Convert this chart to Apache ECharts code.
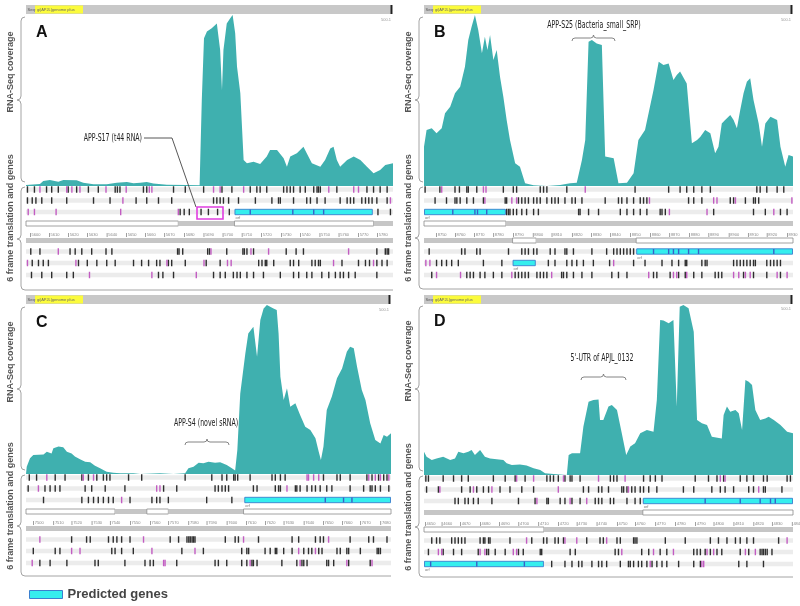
<!DOCTYPE html>
<html><head><meta charset="utf-8">
<script src="https://cdn.jsdelivr.net/npm/echarts@6/dist/echarts.min.js"></script>
<style>html,body{margin:0;padding:0;background:#fff}#c{width:800px;height:606px}</style>
</head><body><div id="c"></div><script>
// ---------- Coverage profiles (x: % of window, y: % of max coverage) ----------
const covA = [[0,0.6],[3.8,1.2],[4.7,2.9],[6.5,3.5],[8.8,2.5],[10.2,3.5],[13.8,3.3],[15.6,1.9],[18.4,1],[22,1],[24.7,1.9],[27.5,2.3],[29.3,1.6],[31.1,1.9],[32.9,2.3],[34.7,1.4],[38.4,0.8],[43.8,0.6],[47.3,0.4],[47.9,50.3],[48.5,86.4],[49.3,90.3],[50.6,92.2],[52,95.1],[52.9,79.5],[53.4,56.1],[53.8,79.5],[54.7,95.1],[55.6,98],[56.3,100],[57,89.3],[57.5,69.8],[58.4,54.2],[59.3,15.2],[60.2,13.3],[62,14.2],[63.8,12.9],[65.6,17.2],[66.5,21.1],[68.4,21.1],[70.2,16.2],[71.1,11.3],[72,17.2],[73.8,19.1],[75.6,23],[76.5,19.1],[77.9,13.3],[80.2,11.3],[81.5,15.2],[82.9,22],[83.8,23],[84.7,15.2],[85.6,11.3],[87.5,15.2],[89.3,17.2],[91.1,15.2],[92.9,11.3],[94.7,7.4],[96.5,9.4],[97.9,12.3],[100,13.3]];
const covB = [[0,23],[0.7,32.7],[2.1,33.7],[3.4,30.8],[4.8,33.7],[5.7,42.5],[7.1,46.4],[8.4,54.2],[9.8,58.1],[11.1,69.8],[12,85.4],[12.9,93.2],[13.8,100],[14.7,91.2],[15.7,77.6],[16.5,87.3],[17.2,79.5],[17.9,88.3],[18.8,73.7],[19.7,79.5],[20.6,63.9],[21.5,52.2],[22.4,38.6],[23.3,26.9],[24.7,13.3],[26,11.3],[27.4,1.6],[29.7,0.4],[33.3,0],[36.9,0.6],[39.6,1.6],[41.4,1.9],[42.8,15.2],[43.7,26.9],[44.6,84.4],[45.5,85.4],[46.8,83.4],[48.2,82.5],[49.1,17.2],[51.4,16.2],[52.7,1.6],[55,1.9],[56.8,7.4],[58.1,26.9],[59.9,32.7],[62.2,56.1],[63.6,72.7],[64.9,70.8],[66.3,71.7],[67.6,62],[68.5,64.9],[69.4,66.9],[71.2,60],[72.6,25],[74,26.9],[74.9,28.8],[76.2,32.7],[77.6,30.8],[78.9,19.1],[79.8,23],[80.7,36.6],[81.6,38.6],[83,41.5],[83.9,38.6],[84.8,33.7],[85.7,44.4],[86.6,54.2],[87.5,61],[88.4,63],[89.3,50.3],[90.7,36.6],[91.6,23],[92.5,36.6],[93.9,40.5],[95.7,38.6],[96.6,23],[97.9,11.3],[98.8,18.1],[100,17.2]];
const covC = [[0,0],[0.2,4.3],[1.1,9.3],[2,11.2],[4.8,11.6],[5.7,13.2],[7,12.2],[7.5,15.2],[8.9,16.2],[10.2,15.8],[11.2,13.2],[12.5,12.2],[13.4,10.3],[14.8,8.7],[16.2,7.3],[17.6,6.9],[18.9,4.9],[20.3,3.4],[22.1,1.4],[23.9,0.8],[25.8,0.4],[29.4,0.4],[31.3,0],[36.7,0.4],[40.4,0],[43.6,0.4],[44.5,3.4],[45.9,4.3],[47.3,6.7],[48.6,6.3],[50,7.3],[51.8,6.7],[53.2,6.9],[55,5.3],[56.4,3.4],[57.3,2],[57.9,14.2],[58.7,47.7],[60.1,71.4],[60.9,83.2],[62.3,87.2],[63.3,69.4],[64.2,91.1],[65.1,98],[66,100],[66.9,99],[67.8,98],[68.7,97],[69.2,83.2],[69.7,57.6],[70.6,43.8],[71.5,50.7],[72.4,39.8],[73.8,41.8],[75.1,34.9],[76.5,28],[77.9,26],[79.3,21.1],[80.2,13.2],[80.8,8.3],[81.5,16.2],[82.4,37.9],[83.8,45.8],[85.2,56.6],[86.6,62.5],[87.9,72.4],[88.8,75.3],[89.8,74.4],[90.7,63.5],[92,49.7],[93,43.8],[94.3,30],[95.7,20.1],[97.1,18.1],[98,23.1],[98.9,22.1],[100,24.1]];
const covD = [[0,13.6],[0.7,10.7],[2.1,8.8],[3.4,9.7],[5.2,10.7],[7.1,8.8],[8.4,9.7],[9.3,13.6],[10.7,12.7],[12,13.6],[12.9,14.6],[13.8,11.7],[15.2,14.6],[16.5,10.7],[17.9,9.7],[19.7,9.2],[21.5,8.8],[22.4,6.8],[23.8,5.8],[26,6.2],[27.8,5.5],[29.7,3.9],[31.5,2.9],[32.8,1],[35.1,0.6],[38.7,0],[39.2,11.7],[40.1,12.7],[42.3,12.7],[43.2,28.3],[44.6,42.9],[45.9,43.9],[47.3,44.2],[47.7,32.2],[48.6,32.2],[50,40],[50.9,40.9],[52.3,38],[53.6,24.4],[54.8,11.7],[55.9,16.6],[57.2,18.5],[58.6,24.4],[60.4,26.3],[62.2,25.3],[63.1,43.9],[64,90.6],[64.9,90.3],[66.3,88.7],[67.6,90.6],[68.5,40],[69.3,98.4],[70.3,99.4],[71.7,97.5],[73.1,83.8],[74,32.2],[75.3,30.2],[76.7,29.2],[78,22.4],[80.7,21.4],[81.2,35.1],[82.1,40],[83,37],[84.4,38],[85.3,36.1],[86.2,26.3],[87.1,55.6],[88,54.6],[88.9,52.6],[89.8,38],[91.1,32.2],[92.5,33.1],[93.4,34.1],[94.8,32.2],[96.6,29.2],[98.4,25.3],[100,24.4]];

// ---------- Stop codon ticks per frame: [f1,f2,f3,r1,r2,r3] ----------
const A_black = [
 [0.4,2.3,5.6,7,8.8,11.5,13.8,17,19.7,24.3,24.9,25.6,32,32.9,40.2,43.4,48.4,53.4,56.1,61.1,62.9,63.8,65.6,70.2,71.1,72,72.9,74.7,76.1,78.4,79.3,79.7,80.2,84.7,92.9,94.7,96.5,98.4],
 [0.4,1.7,2.7,4.3,7,11.1,18.4,22.9,30,32.9,36.1,39.7,51.1,52,52.9,53.8,55.2,57.9,62.5,67,68.8,69.3,72.9,76.5,77.5,79.3,81.5,85.6,87.5,88.4,89.3,91.5,92.5,93.4,94.3,95.6,98.4],
 [42,43.1,44.5,47.7,49.7,52.2,55.4,95.9,99.3],
 [1.3,3.8,12,13.4,15.2,17.9,21.8,23.4,41.3,41.7,42.7,49.5,50,54.7,59.1,59.5,60.2,62,70.9,73.6,75.6,95.6,97.9,98.4,98.8],
 [1.7,3.4,4.7,6.1,14.3,16.7,19.3,22,24.3,29.3,31.5,33.4,35.6,36.5,38.8,39.7,43.4,49.1,52.9,63.4,64.3,65.2,65.6,67.5,72,72.9,74.3,77.9,78.8,79.7,80.2,86.1,90.6,92.5,93.6,95.6,97,98.4],
 [1.5,4.3,7,11.1,12.9,36.1,37.3,40.2,51.1,52.9,54.3,56.5,57.5,58.4,60.2,62,64.7,69.3,72.9,74.3,76.5,77.9,80.6,82.5,84.3,85.6,86.5,87.9,89.7,95.6]];
const A_magenta = [
 [3.8,11.1,12.5,14.7,21.8,27.3,33.6,34.3,51.1,52.9,59.3,82.5,89.3,90.6],
 [26.4,99.3],
 [0.6,2.3,8.2,25.8,41.5],
 [8.8,50.4,61.3,66.1,87.9],
 [0.4,13.6,38.4,48.5,54.9,55.9,83.8,94.7],
 [17.3,34.3,46.4]];
const B_black = [
 [0.3,4.3,8.4,9.6,11.6,12,14.3,21.5,24.2,25.1,31.5,32.4,33.3,38.7,57.2,66.3,69.4,71.2,73.1,75.3,77.6,90.2,91.1,92.9,95.7,97.5],
 [3,6.1,8.4,8.9,9.8,11.6,13.4,16.1,22,22.4,25.6,26.5,27.4,28.3,29.7,30.6,31.5,33.3,34.6,35.5,36.4,38.2,40.1,41,42.8,49.1,52.7,53.6,55,56.8,58.6,59.5,60.4,71.7,73.1,75.3,83,83.9,87.1,89.3,89.8,90.7],
 [22.4,22.9,23.3,24.2,25.1,26.5,27.8,29.7,31,41.9,42.3,44.6,47.3,53.2,55,56.8,58.6,60.4,64,64.5,65.4,78.5,89.3,92.5,96.6,98.4],
 [1.4,10.2,11.1,14.3,15.2,22.9,26.5,27.4,28.3,29.7,30.6,34.2,35.5,38.2,38.7,40.5,45.5,49.5,51.4,52.3,53.2,54.1,55,55.9,56.8],
 [3.4,4.8,6.1,7.5,9.3,16.1,21.1,33.7,35.5,38.7,40.1,41.4,43.2,45.9,50.3,56.8,59.9,64.5,67.2,69,70.8,71.2,75.3,76.2,76.7,83.9,84.8,85.7,86.6,87.5,88.4,89.3,89.8,92.9,93.9,94.8,95.7,96.6],
 [2.1,11.6,12.5,13.4,15.2,16.5,18.8,21.1,24.7,25.6,26.5,27.4,28.3,30.6,31.5,32.4,33.3,37.3,37.8,38.7,40.5,42.8,45.5,50.9,52.7,55,62.2,63.1,66.7,69,70.8,73.1,75.3,78.9,79.8,80.7,86.6,89.3,92.9,96.6]];
const B_magenta = [
 [4.8,16.1,16.8,43.7],
 [16.5,23.8,25.1,61.1,78.5,79.4,84.4,99.7],
 [66.5,76.7,94.8],
 [],
 [0.5,1.6,51.4],
 [3.4,9.9,23.8,34.6,60.9,67.6,68.5,71.2,83.9,85.3,87.1,88.4,95.7,98.4]];
const C_black = [
 [0.9,2.9,8,10.7,15.3,17.1,19.4,21.2,22.1,23,28.1,31.7,43.6,50.9,53.7,55,56.9,57.3,58,61.4,67.4,68.3,69.7,71,81.5,85.2,86.1,88.8,93.4,94.8,96.6,98,98.9],
 [0.6,5.2,6.6,8,9.3,16.2,18,21.7,27.1,37.7,41.3,51.8,52.7,53.7,54.6,55.5,62.3,63.3,68.3,69.2,69.7,73.8,74.2,75.1,77,78.3,79.3,80.6,82.4,83.8,88.8,92.5,94.3,94.8,95.7,97.1,99.4],
 [4.8,15.3,17.1,18.5,19.8,21.2,22.6,23.9,28.5,34.5,35.8,36.7,39,49.5,56.4],
 [12.5,16.6,17.6,22.6,23.9,24.9,26.2,28.5,39.5,41.8,44.1,44.6,45,45.5,45.9,46.3,54.6,57.3,58.2,63.7,72.9,74.7,79.3,80.6,81.5,88.8,93.9,95.2,98.9],
 [2,8,9.3,23.5,24.4,26.2,29.4,42.7,48.6,59.1,60.5,61,65.5,66.9,68.3,68.7,70.6,72.9,76.1,77.4,78.3,80.2,81.1,85.2,86.1,87.9,88.4,91.6,96.2,96.6,97.1],
 [3.8,6.6,11.2,18.9,19.8,27.1,32.6,34,34.9,41.3,51.8,52.7,55,59.1,60.5,61.9,62.3,63.3,70.1,74.2,75.6,76.1,77,82.4,82.9,84.3,88.4,94.3]];
const C_magenta = [
 [5.7,15.7,18.5,77,77.4,78.8,80.2,93.9,95.7,97.1,99.4],
 [3.4,35.8,36.7,71.5],
 [26.2],
 [3.8,32.2,59.6,82.9],
 [12.5,14.8,34.5,46.3,74.7,79.3],
 [1.7,37.7,38.1,61.4,75.1,87.9,94.8]];
const D_black = [
 [0.5,1.2,5.2,8,10.2,12,18.8,22,24.7,27.4,33.3,34.2,35.1,36.4,38.2,39.6,40.1,42.3,50.5,51.4,52.3,59.5,61.3,62.7,64.5,73.5,77.1,79.4,81.2,85.7,87.5,89.3,92,93,98.4,99.3],
 [0.7,3.9,10.2,12.5,14.3,16.1,17.5,20.6,23.3,26.5,29.7,43.2,44.6,47.3,48.2,50,53.6,54.1,55,56.3,57.2,58.6,59.5,60.9,63.1,70.3,73.1,78,80.3,81.6,83.9,88,89.3,92,92.5,97],
 [8.4,9.3,11.1,12,13.4,14.7,18.4,25.6,30.1,33.3,33.7,36.9,38.2,40.1,42.3,46.4,47.3,48.2,50.5,51.4,55,57.2,58.6],
 [2.1,3.4,4.3,7.5,8.4,9.3,10.2,11.1,15.2,16.1,16.5,17.5,17.9,23.3,29.2,32.4,33.3,35.5,36.4,37.8,44.1,47.7,48.6,52.3,53.2,56.8,57.2,57.7,65.4,70.8,77.6,79.8,82.1,84.4,85.7,87.5,89.3,96.1],
 [1.2,5.2,8,10.2,14.7,17,17.5,19.3,22,25.6,26.9,31.5,31.9,39.6,41,51.8,52.7,59,60.9,64,65.8,73.1,74,74.9,76.2,77.6,79.4,80.7,85.7,88,91.1,91.6,92,92.5,93,94.3],
 [34.6,38.2,40.1,41.9,42.8,45.5,47.3,48.2,49.5,53.2,55.4,55.9,56.8,58.1,59,60.4,61.8,63.1,64.5,65.8,69,73.1,74.9,85.3,87.5,92]];
const D_magenta = [
 [25.1,29.7,37.8,47.3,54.5,80.3,81.6],
 [4.3,13.4,18.4,36.4,55.4,90.7],
 [30.6,39.6,44.1],
 [27.8,38.2,41.4,49.5,98.4],
 [3.9,4.8,15.2,16.5,24.2,25.1,53.6,62.2,67.6,76.7,78.5,87.1,89.8],
 [61.3,75.3,75.8]];

// ---------- Predicted genes: [start, end, row] and internal divisions ----------
const A_genes = [[56.8,94.5,2]];
const A_geneDiv = [[61.1,72.7,78.4,81.1]];
const B_genes = [[0,22.2,2],[57.5,100,6],[24,30.3,7]];
const B_geneDiv = [[7.8,13.8,14.5,17],[62.2,66.3,67.6,69,71.7,74.4,94.8],[]];
const C_genes = [[59.8,100,2]];
const C_geneDiv = [[82,87,89.3]];
const D_genes = [[59.3,100,2],[0,32.5,8]];
const D_geneDiv = [[76.2,85.7,91.1,93.9,95.2],[1.8,14.3,27.2]];

// ---------- Strand / ruler bars: [start, end, kind(0 open,1 grey)] ----------
const A_strand = [[0,41.5,0],[41.5,56.8,1],[56.8,94.7,0],[94.7,100,1]];
const A_rulerBar = [[0,100,1]];
const B_strand = [[0,22.2,0],[22.2,100,1]];
const B_rulerBar = [[0,24,1],[24,30.4,0],[30.4,57.5,1],[57.5,100,0]];
const C_strand = [[0,24.4,0],[24.4,33.1,1],[33.1,39,0],[39,59.6,1],[59.6,100,0]];
const C_rulerBar = [[0,100,1]];
const D_strand = [[0,59.3,1],[59.3,100,0]];
const D_rulerBar = [[0,32.5,0],[32.5,100,1]];

// ---------- Ruler ticks and labels ----------
const A_ruler = [1.1,6.3,11.5,16.7,22,27.3,32.5,37.7,43.1,48.4,53.6,58.8,64.1,69.5,74.7,80,85.2,90.5,95.7];
const A_rulerText = ['5600','5610','5620','5630','5640','5650','5660','5670','5680','5690','5700','5710','5720','5730','5740','5750','5760','5770','5780'];
const B_ruler = [3.3,8.4,13.6,18.8,24.2,29.5,34.6,40.1,45.3,50.5,55.9,61.3,66.5,71.9,77.1,82.6,87.8,92.9,98.4];
const B_rulerText = ['8750','8760','8770','8780','8790','8800','8810','8820','8830','8840','8850','8860','8870','8880','8890','8900','8910','8920','8930'];
const C_ruler = [2,7.5,12.5,18,23,28.5,34,39,44.5,49.5,55,60.3,65.5,70.6,76.1,81.4,86.6,91.6,97.1];
const C_rulerText = ['7500','7510','7520','7530','7540','7550','7560','7570','7580','7590','7600','7610','7620','7630','7640','7650','7660','7670','7680'];
const D_ruler = [0.3,4.8,9.8,15.2,20.4,25.6,31,36.4,41.4,46.8,52.3,57.2,62.7,68.1,73.5,78.5,83.9,89.3,94.3,99.7];
const D_rulerText = ['4650','4660','4670','4680','4690','4700','4710','4720','4730','4740','4750','4760','4770','4780','4790','4800','4810','4820','4830','4840'];

// ---------- Text ----------
const panelLetters = ['A','B','C','D'];
const annotations = ['APP-S17 (t44 RNA)','APP-S25 (Bacteria_small_SRP)','APP-S4 (novel sRNA)',"5'-UTR of APJL_0132"];
const sideLabels = ['RNA-Seq coverage','6 frame translation and genes'];
const legendName = 'Predicted genes';

// ---------- Layout ----------
const LAY = [
 {left:26, right:393, barY:5, covTop:15, base:186, end:290},
 {left:424, right:793, barY:5, covTop:15, base:186, end:289},
 {left:26, right:391, barY:295, covTop:305, base:474, end:576},
 {left:424, right:793, barY:295, covTop:304, base:475, end:577}
];
const ROW_OFF = [3.5, 14.5, 26, 37.5, 49, 54.5, 65.5, 77, 89];
const FRAME_ROWS = [0,1,2,6,7,8];
const TEAL = '#3fb0af', CYAN = '#35eeee', GENE_EDGE = '#3b7fcf';
const FONT = "'Liberation Sans', Arial, sans-serif";
const NARROW = "'Liberation Sans Narrow', 'DejaVu Sans Condensed', sans-serif";

const DATA = [
 {cov:covA, black:A_black, mag:A_magenta, genes:A_genes, div:A_geneDiv, strand:A_strand, rbar:A_rulerBar, ruler:A_ruler, rtext:A_rulerText},
 {cov:covB, black:B_black, mag:B_magenta, genes:B_genes, div:B_geneDiv, strand:B_strand, rbar:B_rulerBar, ruler:B_ruler, rtext:B_rulerText},
 {cov:covC, black:C_black, mag:C_magenta, genes:C_genes, div:C_geneDiv, strand:C_strand, rbar:C_rulerBar, ruler:C_ruler, rtext:C_rulerText},
 {cov:covD, black:D_black, mag:D_magenta, genes:D_genes, div:D_geneDiv, strand:D_strand, rbar:D_rulerBar, ruler:D_ruler, rtext:D_rulerText}
];

const grid = [], xAxis = [], yAxis = [], series = [], graphic = [];
LAY.forEach((L, i) => {
  grid.push({left:L.left, top:L.covTop, width:L.right-L.left, height:L.base-L.covTop});
  xAxis.push({type:'value', gridIndex:i, min:0, max:100, show:false});
  yAxis.push({type:'value', gridIndex:i, min:0, max:100, show:false});
});
LAY.forEach((L, i) => {
  grid.push({left:L.left, top:L.base, width:L.right-L.left, height:100});
  xAxis.push({type:'value', gridIndex:4+i, min:0, max:100, show:false});
  yAxis.push({type:'value', gridIndex:4+i, min:0, max:100, inverse:true, show:false});
});

DATA.forEach((D, i) => {
  const ti = 4 + i;
  series.push({type:'line', xAxisIndex:i, yAxisIndex:i, data:D.cov, symbol:'none', silent:true,
    lineStyle:{width:0}, itemStyle:{color:TEAL}, areaStyle:{color:TEAL, opacity:1}, z:2});
  series.push({type:'custom', xAxisIndex:ti, yAxisIndex:ti, silent:true, z:2,
    data: FRAME_ROWS.map(r => [0, r, 100]),
    renderItem:(p, api) => {
      const a = api.coord([api.value(0), ROW_OFF[api.value(1)]]);
      const b = api.coord([api.value(2), ROW_OFF[api.value(1)]]);
      return {type:'rect', shape:{x:a[0], y:a[1]-2.2, width:b[0]-a[0], height:4.4}, style:{fill:'#ececec'}};
    }});
  const segs = D.strand.map(s => [s[0], 3, s[1], s[2]]).concat(D.rbar.map(s => [s[0], 5, s[1], s[2]]));
  series.push({type:'custom', xAxisIndex:ti, yAxisIndex:ti, silent:true, z:3, data:segs,
    renderItem:(p, api) => {
      const a = api.coord([api.value(0), ROW_OFF[api.value(1)]]);
      const b = api.coord([api.value(2), ROW_OFF[api.value(1)]]);
      const open = api.value(3) === 0;
      return {type:'rect', shape:{x:a[0], y:a[1]-2.5, width:b[0]-a[0], height:5},
        style: open ? {fill:'#fff', stroke:'#8a8a8a', lineWidth:0.8} : {fill:'#c6c6c6'}};
    }});
  series.push({type:'custom', xAxisIndex:ti, yAxisIndex:ti, silent:true, z:3,
    data: D.ruler.map((x, k) => [x, 4, k]),
    renderItem:(p, api) => {
      const a = api.coord([api.value(0), ROW_OFF[4]]);
      return {type:'group', children:[
        {type:'rect', shape:{x:a[0], y:a[1]-2, width:0.7, height:4}, style:{fill:'#777'}},
        {type:'text', x:a[0]+1.5, y:a[1], style:{text:D.rtext[api.value(2)], fontSize:4, fill:'#888', verticalAlign:'middle', fontFamily:FONT}}
      ]};
    }});
  series.push({type:'custom', name:legendName, xAxisIndex:ti, yAxisIndex:ti, silent:true, z:4,
    itemStyle:{color:CYAN, borderColor:GENE_EDGE, borderWidth:1},
    data: D.genes.map(g => [g[0], g[2], g[1]]),
    renderItem:(p, api) => {
      const a = api.coord([api.value(0), ROW_OFF[api.value(1)]]);
      const b = api.coord([api.value(2), ROW_OFF[api.value(1)]]);
      return {type:'group', children:[
        {type:'rect', shape:{x:a[0]+0.5, y:a[1]-2.7, width:b[0]-a[0]-1, height:5.4}, style:{fill:CYAN, stroke:GENE_EDGE, lineWidth:0.9}},
        {type:'text', x:a[0]+1, y:a[1]+6, style:{text:'orf', fontSize:4, fill:'#777', verticalAlign:'middle', fontFamily:FONT}}
      ]};
    }});
  const ticks = [];
  D.black.forEach((arr, k) => arr.forEach(x => ticks.push([x, FRAME_ROWS[k], 0])));
  D.mag.forEach((arr, k) => arr.forEach(x => ticks.push([x, FRAME_ROWS[k], 1])));
  D.div.forEach((arr, g) => arr.forEach(x => ticks.push([x, D.genes[g][2], 2])));
  series.push({type:'custom', xAxisIndex:ti, yAxisIndex:ti, silent:true, z:5, data:ticks,
    renderItem:(p, api) => {
      const a = api.coord([api.value(0), ROW_OFF[api.value(1)]]);
      const kind = api.value(2);
      const h = kind === 2 ? 5 : 6.5;
      return {type:'rect', shape:{x:a[0]-0.7, y:a[1]-h/2, width:1.4, height:h},
        style:{fill: kind === 0 ? '#2e2e2e' : (kind === 1 ? '#c25cc2' : '#3a5fc8')}};
    }});
});

// ---------- Decorative braces (drawn as paths in pixel space) ----------
function brace(xt, y0, y1, ym) {
  const xb = xt + 4, xe = xt + 8, r = 4;
  return `M${xe} ${y0} Q${xb} ${y0} ${xb} ${y0+r} L${xb} ${ym-r} Q${xb} ${ym} ${xt} ${ym} Q${xb} ${ym} ${xb} ${ym+r} L${xb} ${y1-r} Q${xb} ${y1} ${xe} ${y1}`;
}
function hbrace(x0, x1, y) {
  const xm = (x0 + x1) / 2, r = 3;
  return `M${x0} ${y+r} Q${x0} ${y} ${x0+r} ${y} L${xm-r} ${y} Q${xm} ${y} ${xm} ${y-r} Q${xm} ${y} ${xm+r} ${y} L${x1-r} ${y} Q${x1} ${y} ${x1} ${y+r}`;
}
const bracePaths = [];
LAY.forEach(L => {
  const xt = L.left - 9;
  const c0 = L.covTop + 2, c1 = L.base - 4, t0 = L.base + 1, t1 = L.end;
  bracePaths.push({d:brace(xt, c0, c1, Math.round((c0+c1)/2)), c:'#9a9a9a'});
  bracePaths.push({d:brace(xt, t0, t1, Math.round((t0+t1)/2)) + ` L${L.right} ${t1}`, c:'#9a9a9a'});
});
bracePaths.push({d:hbrace(572, 615, 38), c:'#777'});
bracePaths.push({d:hbrace(185, 229, 442), c:'#777'});
bracePaths.push({d:hbrace(581, 626, 377), c:'#777'});
series.push({type:'custom', xAxisIndex:0, yAxisIndex:0, silent:true, z:6, data:[[0,0]], clip:false,
  renderItem:() => ({type:'group', children: bracePaths.map(b => ({type:'path', shape:{pathData:b.d},
    style:{fill:null, stroke:b.c, lineWidth:0.9}}))})});

LAY.forEach((L, i) => {
  graphic.push({type:'rect', shape:{x:L.left, y:L.barY, width:L.right-L.left, height:9}, style:{fill:'#c8c8c8'}, silent:true});
  graphic.push({type:'rect', shape:{x:L.left+9, y:L.barY+0.5, width:48, height:8}, style:{fill:'#fbfb3c'}, silent:true});
  graphic.push({type:'text', x:L.left+1.5, y:L.barY+4.5, style:{text:'Seq:', fontSize:4, fill:'#555', verticalAlign:'middle', fontFamily:FONT}, silent:true});
  graphic.push({type:'text', x:L.left+11, y:L.barY+4.5, style:{text:'gi|APJL|genome plus', fontSize:4, fill:'#666', verticalAlign:'middle', fontFamily:FONT}, silent:true});
  graphic.push({type:'rect', shape:{x:L.right-2.5, y:L.barY, width:1.8, height:9}, style:{fill:'#222'}, silent:true});
  graphic.push({type:'text', x:L.right-2, y:L.covTop+5, style:{text:'500.1', fontSize:4, fill:'#999', align:'right', verticalAlign:'middle', fontFamily:FONT}, silent:true});
  const sx = L.left - 15;
  graphic.push({type:'text', x:sx, y:L.covTop+57, rotation:Math.PI/2,
    style:{text:sideLabels[0], fontSize:9, fontWeight:'bold', fill:'#555', align:'center', verticalAlign:'middle', fontFamily:FONT}, silent:true});
  graphic.push({type:'text', x:sx, y:L.base+32, rotation:Math.PI/2,
    style:{text:sideLabels[1], fontSize:9, fontWeight:'bold', fill:'#555', align:'center', verticalAlign:'middle', fontFamily:FONT}, silent:true});
  graphic.push({type:'text', x:L.left+10, y:L.covTop+18, style:{text:panelLetters[i], fontSize:16, fontWeight:'bold', fill:'#111', verticalAlign:'middle', fontFamily:FONT}, silent:true});
});

const annStyle = (t, x, y, align) => ({type:'text', x:x, y:y, scaleX:0.63, z:100, silent:true,
  style:{text:t, fontSize:11, fill:'#222', align:align, verticalAlign:'middle', fontFamily:NARROW}});
graphic.push(annStyle(annotations[0], 142, 138, 'right'));
graphic.push({type:'polyline', z:100, shape:{points:[[144,138],[172,138],[196,207]]}, style:{stroke:'#444', lineWidth:0.9, fill:null}, silent:true});
graphic.push({type:'rect', z:100, shape:{x:197, y:207, width:26, height:12}, style:{fill:null, stroke:'#e03ee0', lineWidth:1.6}, silent:true});
graphic.push(annStyle(annotations[1], 594, 25, 'center'));
graphic.push(annStyle(annotations[2], 206, 423, 'center'));
graphic.push(annStyle(annotations[3], 602, 358, 'center'));

const chart = echarts.init(document.getElementById('c'), null, {renderer:'canvas'});
chart.setOption({
  animation:false,
  backgroundColor:'#fff',
  grid, xAxis, yAxis, series, graphic,
  legend:{left:24, top:583, itemWidth:33, itemHeight:8, icon:'rect', selectedMode:false,
    data:[{name:legendName, itemStyle:{color:CYAN, borderColor:GENE_EDGE, borderWidth:1}}],
    textStyle:{fontSize:13, fontWeight:'bold', color:'#444', fontFamily:FONT}}
});
</script></body></html>
